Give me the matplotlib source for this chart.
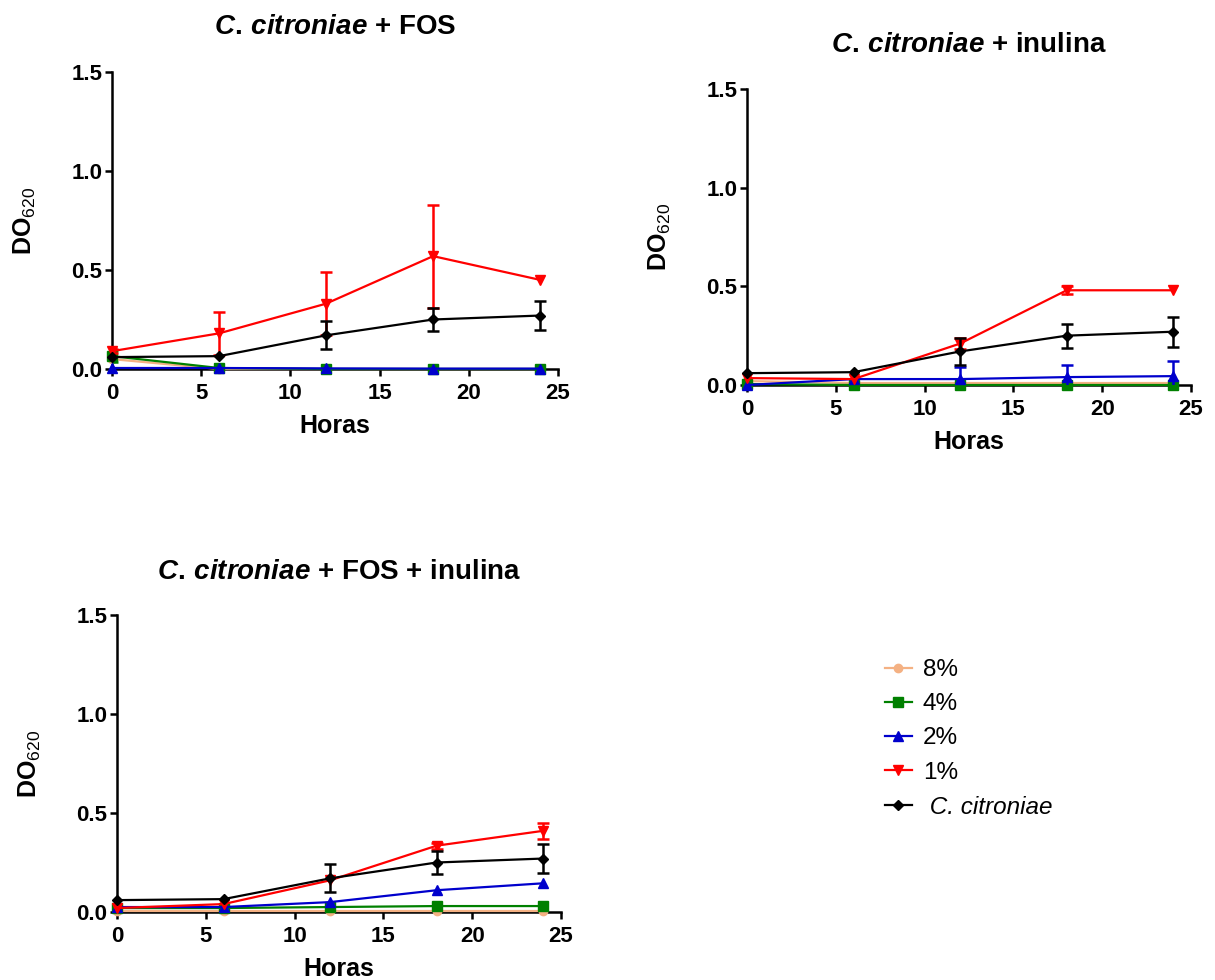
import numpy as np
import matplotlib
matplotlib.use("Agg")
import matplotlib.pyplot as plt

plt.rcParams['font.family'] = ['Liberation Sans', 'DejaVu Sans']
plt.rcParams['mathtext.fontset'] = 'custom'
plt.rcParams['mathtext.it'] = 'Liberation Sans:italic:bold'
plt.rcParams['mathtext.rm'] = 'Liberation Sans:bold'
plt.rcParams['mathtext.sf'] = 'Liberation Sans'

hours = [0, 6, 12, 18, 24]
labels = ['8%', '4%', '2%', '1%', ' C. citroniae']

# control (same in all panels)
ctrl = [0.06, 0.065, 0.17, 0.25, 0.27]
ctrl_err = [0.0, 0.0, 0.07, 0.06, 0.075]

# C. citroniae + FOS
fos_8 = [0.05, 0.0, 0.0, 0.0, 0.0]
fos_4 = [0.065, 0.005, 0.0, 0.0, 0.0]
fos_4_err = [0.03, 0.0, 0.0, 0.0, 0.0]
fos_2 = [0.005, 0.005, 0.003, 0.002, 0.002]
fos_1 = [0.09, 0.18, 0.33, 0.57, 0.45]
fos_1_err = [0.01, 0.11, 0.16, 0.26, 0.0]

# C. citroniae + inulina
inu_8 = [0.02, 0.01, 0.01, 0.01, 0.01]
inu_4 = [0.005, 0.0, 0.0, 0.0, 0.0]
inu_2 = [0.0, 0.03, 0.03, 0.04, 0.045]
inu_2_err = [0.0, 0.0, 0.06, 0.06, 0.075]
inu_1 = [0.035, 0.03, 0.21, 0.48, 0.48]
inu_1_err = [0.0, 0.0, 0.03, 0.02, 0.0]

# C. citroniae + FOS + inulina
mix_8 = [0.005, 0.005, 0.005, 0.005, 0.005]
mix_4 = [0.02, 0.02, 0.025, 0.03, 0.03]
mix_2 = [0.025, 0.025, 0.05, 0.11, 0.145]
mix_1 = [0.02, 0.04, 0.16, 0.335, 0.41]
mix_1_err = [0.0, 0.0, 0.0, 0.015, 0.04]

zeros = [0.0] * 5

colors = ['#F4B183', '#008000', '#0000CC', '#FF0000', 'black']
markers = ['o', 's', '^', 'v', 'D']
msizes = [6, 7, 7.5, 7.5, 5.5]

panels = [
    (r'$\mathit{C.\,citroniae}$ + FOS',
     [(fos_8, zeros), (fos_4, fos_4_err), (fos_2, zeros), (fos_1, fos_1_err), (ctrl, ctrl_err)],
     [112, 72, 446, 297], 45),
    (r'$\mathit{C.\,citroniae}$ + inulina',
     [(inu_8, zeros), (inu_4, zeros), (inu_2, inu_2_err), (inu_1, inu_1_err), (ctrl, ctrl_err)],
     [747, 89, 444, 296], 44),
    (r'$\mathit{C.\,citroniae}$ + FOS + inulina',
     [(mix_8, zeros), (mix_4, zeros), (mix_2, zeros), (mix_1, mix_1_err), (ctrl, ctrl_err)],
     [117, 615, 444, 297], 43),
]

W, H = 1215, 980
fig = plt.figure(figsize=(W / 100, H / 100), dpi=100)

handles = []
for title, series, (left, top, w, h), tgap in panels:
    ax = fig.add_axes([left / W, 1 - (top + h) / H, w / W, h / H])
    handles = []
    for (vals, errs), c, m, ms in zip(series, colors, markers, msizes):
        ln, = ax.plot(hours, vals, color=c, marker=m, markersize=ms, lw=1.6,
                      clip_on=False, zorder=3)
        handles.append(ln)
        idx = [i for i, e in enumerate(errs) if e > 0]
        if idx:
            ax.errorbar([hours[i] for i in idx], [vals[i] for i in idx],
                        yerr=[errs[i] for i in idx], fmt='none', ecolor=c,
                        elinewidth=1.8, capsize=4, capthick=1.8, zorder=3)
    ax.set_xlim(0, 25)
    ax.set_ylim(0, 1.5)
    ax.set_xticks([0, 5, 10, 15, 20, 25])
    ax.set_yticks([0, 0.5, 1.0, 1.5])
    ax.set_yticklabels(['0.0', '0.5', '1.0', '1.5'])
    for s in ['top', 'right']:
        ax.spines[s].set_visible(False)
    for s in ['left', 'bottom']:
        ax.spines[s].set_linewidth(1.8)
    ax.tick_params(axis='both', length=5, width=1.8, labelsize=16)
    ax.tick_params(axis='y', pad=2)
    ax.tick_params(axis='x', pad=5)
    for t in ax.get_xticklabels() + ax.get_yticklabels():
        t.set_fontweight('bold')
    ax.set_xlabel('Horas', fontsize=18, fontweight='bold')
    ax.xaxis.label.set_va('center')
    ax.xaxis.set_label_coords(0.5, -57 / h)
    ax.set_ylabel(r'DO$_{\mathsf{620}}$', fontsize=18, fontweight='bold')
    ax.yaxis.label.set_va('center')
    ax.yaxis.set_label_coords(-87 / w, 0.5)
    ax.text(0.5, 1 + tgap / h, title, transform=ax.transAxes, ha='center',
            va='center', fontsize=20, fontweight='bold')

leg = fig.legend(handles, labels, loc='upper left',
                 bbox_to_anchor=(885 / W, 1 - 659 / H), frameon=False,
                 fontsize=17.5, handlelength=1.1, handletextpad=0.45,
                 labelspacing=0.5, borderpad=0, borderaxespad=0)
leg.get_texts()[4].set_fontstyle('italic')

fig.savefig('out.png', dpi=100)
